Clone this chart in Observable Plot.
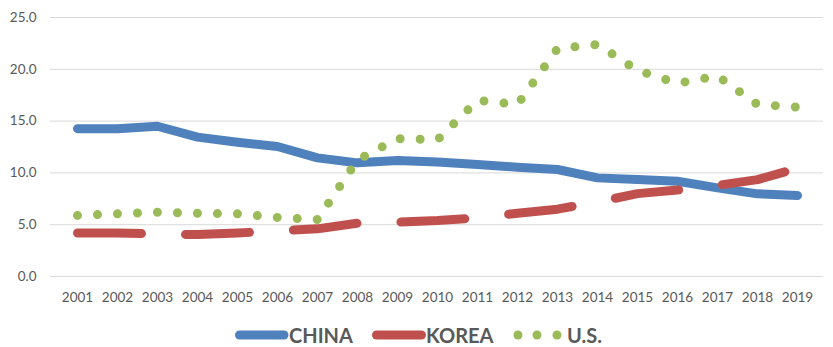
<!DOCTYPE html>
<html><head><meta charset="utf-8">
<script src="https://cdn.jsdelivr.net/npm/d3@7"></script>
<script src="https://cdn.jsdelivr.net/npm/@observablehq/plot@0.6"></script>
<style>
body{margin:0;background:#fff;font-family:Lato, "Open Sans", sans-serif;}
#chart{position:relative;width:833px;height:347px;overflow:hidden;}
#legend{position:absolute;left:0;top:312px;}
</style></head><body><div id="chart"></div>
<script>
const years = ["2001","2002","2003","2004","2005","2006","2007","2008","2009","2010","2011","2012","2013","2014","2015","2016","2017","2018","2019"];
const china = [14.27,14.27,14.5,13.45,12.96,12.55,11.45,10.97,11.2,11.05,10.8,10.55,10.33,9.52,9.36,9.2,8.56,7.98,7.82];
const korea = [4.2,4.2,4.1,4.05,4.2,4.4,4.6,5.15,5.25,5.4,5.65,6.1,6.5,7.2,8.0,8.35,8.8,9.35,10.45];
const us = [5.9,6.05,6.2,6.1,6.05,5.7,5.5,11.25,13.3,13.2,17.0,16.6,22.0,22.4,19.9,18.65,19.35,16.6,16.35];
const yTicks = [0,5,10,15,20,25];
const seriesNames = ["CHINA","KOREA","U.S."];
const colors = ["#4F81BD","#C0504D","#9BBB59"];

const table = (vals) => years.map((y,i) => ({year: y, value: vals[i]}));

const chart = Plot.plot({
  width: 833, height: 312,
  marginLeft: 50, marginRight: 10, marginTop: 17, marginBottom: 36,
  style: {fontFamily: "Lato, 'Open Sans', sans-serif", fontSize: "13.5px", color: "#595959", background: "white", overflow: "visible"},
  x: {type: "point", domain: years, padding: 0.5, label: null, tickSize: 0, tickPadding: 16},
  y: {domain: [0,25], ticks: yTicks, tickFormat: d3.format(".1f"), label: null, tickSize: 0, tickPadding: 14},
  marks: [
    Plot.ruleY(yTicks, {stroke: "#d9d9d9", strokeWidth: 1}),
    Plot.lineY(table(china), {x: "year", y: "value", stroke: colors[0], strokeWidth: 9, strokeLinecap: "round", strokeLinejoin: "round"}),
    Plot.lineY(table(korea), {x: "year", y: "value", stroke: colors[1], strokeWidth: 9, strokeLinecap: "round", strokeLinejoin: "round", strokeDasharray: "64,44"}),
    Plot.lineY(table(us), {x: "year", y: "value", stroke: colors[2], strokeWidth: 9, strokeLinecap: "round", strokeLinejoin: "round", strokeDasharray: "0,20"})
  ]
});
document.getElementById("chart").appendChild(chart);

// legend below the plot
const lg = d3.select("#chart").append("svg").attr("id","legend").attr("width",833).attr("height",35);
const ly = 23;
const items = [
  {name: seriesNames[0], color: colors[0], kind: "line", x0: 239.5, x1: 284, tx: 289},
  {name: seriesNames[1], color: colors[1], kind: "line", x0: 376.5, x1: 421.5, tx: 426},
  {name: seriesNames[2], color: colors[2], kind: "dots", dots: [518,537,557], tx: 567}
];
for (const it of items) {
  if (it.kind === "line") {
    lg.append("line").attr("x1", it.x0).attr("x2", it.x1).attr("y1", ly).attr("y2", ly)
      .attr("stroke", it.color).attr("stroke-width", 9).attr("stroke-linecap", "round");
  } else {
    for (const cx of it.dots) lg.append("circle").attr("cx", cx).attr("cy", ly).attr("r", 4.5).attr("fill", it.color);
  }
  lg.append("text").attr("x", it.tx).attr("y", 24).attr("dy", "0.35em")
    .attr("fill", "#595959").attr("font-weight", "bold").attr("font-size", "20px")
    .attr("font-family", "Lato, 'Open Sans', sans-serif").text(it.name);
}
</script>
</body></html>
